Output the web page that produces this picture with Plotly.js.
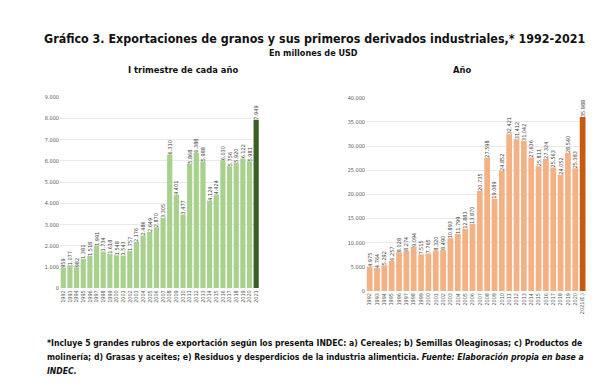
<!DOCTYPE html>
<html><head><meta charset="utf-8">
<script src="https://cdn.plot.ly/plotly-3.0.1.min.js"></script>
<style>html,body{margin:0;padding:0;background:#fff}#c{width:612px;height:391px}</style>
</head><body><div id="c"></div>
<script>
const years = ["1992","1993","1994","1995","1996","1997","1998","1999","2000","2001","2002","2003","2004","2005","2006","2007","2008","2009","2010","2011","2012","2013","2014","2015","2016","2017","2018","2019","2020","2021"];
const yearsRight = ["1992","1993","1994","1995","1996","1997","1998","1999","2000","2001","2002","2003","2004","2005","2006","2007","2008","2009","2010","2011","2012","2013","2014","2015","2016","2017","2018","2019","2020","2021(E.)"];
const q1Values = [959,1077,982,1381,1518,1991,1734,1618,1548,1543,1757,2176,2486,2649,2870,3305,6310,4401,3477,5868,6388,5988,4124,4424,6030,5756,5920,6122,5981,7949];
const annualValues = [4975,4764,5292,6257,8028,8274,9094,7515,7765,8320,8490,10893,11799,12883,13870,20735,27598,19089,24852,32421,31412,31042,27636,25811,27324,25563,24052,28540,25383,35988];
const leftTicks = [0,1000,2000,3000,4000,5000,6000,7000,8000,9000];
const rightTicks = [0,5000,10000,15000,20000,25000,30000,35000,40000];

const greenColors = q1Values.map((v,i)=> i===q1Values.length-1 ? '#3b5e23' : '#a9d18e');
const orangeColors = annualValues.map((v,i)=> i===annualValues.length-1 ? '#c55a11' : '#f4b183');

const F = 'DejaVu Sans Condensed, DejaVu Sans, sans-serif';
const traceCommon = {type:'bar', textposition:'outside', textangle:-90, texttemplate:'%{y:,}',
  textfont:{size:5.5, color:'#404040', family:F}, cliponaxis:false, constraintext:'none', hoverinfo:'skip'};

const data = [
  Object.assign({}, traceCommon, {x:years, y:q1Values, marker:{color:greenColors}, xaxis:'x', yaxis:'y'}),
  Object.assign({}, traceCommon, {x:yearsRight, y:annualValues, marker:{color:orangeColors}, xaxis:'x2', yaxis:'y2'})
];

const axX = {type:'category', tickangle:-90, tickfont:{size:5.5, color:'#595959', family:F}, showgrid:false, showline:false, ticks:'', zeroline:false, fixedrange:true, tickmode:'array'};
const axY = {tickfont:{size:5.5, color:'#595959', family:F}, showgrid:true, gridcolor:'#e0e0e0', gridwidth:0.7, showline:false, zeroline:false, ticks:'', ticklen:0, fixedrange:true, tickformat:',d'};

function ann(text, x, y, size, xanchor){
  return {text:text, x:x, y:y, xref:'paper', yref:'paper', showarrow:false, xanchor:xanchor||'center', yanchor:'middle', font:{size:size, color:'#111', family:F}};
}

const layout = {
  width:612, height:391, margin:{l:0,r:0,t:0,b:0}, paper_bgcolor:'#fff', plot_bgcolor:'#fff',
  separators:',.', showlegend:false, bargap:0.22,
  font:{family:F},
  xaxis: Object.assign({}, axX, {domain:[0.098,0.424], anchor:'y', tickvals:years, ticktext:years}),
  yaxis: Object.assign({}, axY, {domain:[0.263,0.751], range:[0,9000], tickvals:leftTicks, anchor:'x'}),
  xaxis2: Object.assign({}, axX, {domain:[0.598,0.958], anchor:'y2', tickvals:yearsRight, ticktext:yearsRight}),
  yaxis2: Object.assign({}, axY, {domain:[0.256,0.750], range:[0,40000], tickvals:rightTicks, anchor:'x2'}),
  annotations:[
    ann('<b>Gráfico 3. Exportaciones de granos y sus primeros derivados industriales,* 1992-2021</b>', 0.514, (391-38)/391, 12.4),
    ann('<b>En millones de USD</b>', 0.512, (391-53)/391, 9),
    ann('<b>I trimestre de cada año</b>', 183/612, (391-70)/391, 9.3),
    ann('<b>Año</b>', 462/612, (391-70)/391, 9.3),
    ann('<b>*Incluye 5 grandes rubros de exportación según los presenta INDEC: a) Cereales; b) Semillas Oleaginosas; c) Productos de</b>', 45/612, (391-343)/391, 8.6, 'left'),
    ann('<b>molinería; d) Grasas y aceites; e) Residuos y desperdicios de la industria alimenticia. <i>Fuente: Elaboración propia en base a</i></b>', 45/612, (391-357)/391, 8.6, 'left'),
    ann('<b><i>INDEC.</i></b>', 45/612, (391-371)/391, 8.6, 'left')
  ]
};
Plotly.newPlot('c', data, layout, {staticPlot:true, displayModeBar:false});
</script></body></html>
